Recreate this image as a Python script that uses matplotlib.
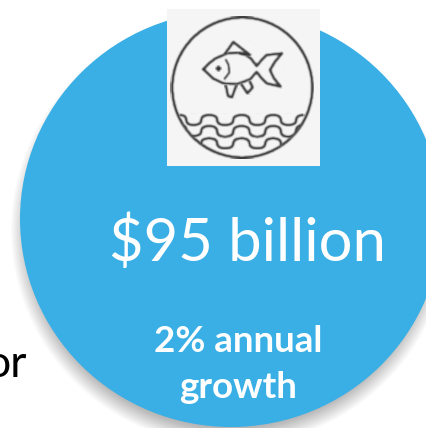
import numpy as np
import matplotlib
matplotlib.use('Agg')
import matplotlib.pyplot as plt
from matplotlib.patches import Ellipse, Circle, Rectangle, PathPatch
from matplotlib.path import Path

W, H = 426, 428
BLUE = '#39afe6'
INK = '#383838'

headline = '$95 billion'
growth_lines = ['2% annual', 'growth']
cut_word = 'or'

# fish outline, icon coordinates
body_x = [160, 175, 195, 232, 262, 285, 303, 320, 335, 350, 396, 375, 360, 372, 392, 350, 335, 320, 300, 262, 220, 190, 160]
body_y = [208, 192, 176, 160, 158, 163, 176, 198, 180, 165, 160, 185, 210, 235, 260, 250, 235, 216, 238, 252, 250, 236, 208]
dorsal_x = [226, 250, 300, 270]
dorsal_y = [160, 126, 165, 160]
fin_a_x = [228, 234, 246, 258]
fin_a_y = [258, 288, 292, 258]
fin_b_x = [275, 292, 308, 300]
fin_b_y = [254, 280, 262, 246]
gill_x = [228, 236, 238, 224]
gill_y = [180, 195, 218, 236]
# wave crests and troughs, one row per wave
wave_x = [88, 130, 178, 225, 275, 322, 370, 415, 462]
wave_rows = [
    [345, 375, 345, 375, 345, 375, 345, 375, 345],
    [375, 408, 378, 410, 378, 410, 378, 410, 375],
    [412, 442, 415, 445, 415, 445, 415, 445, 412],
]


def ix(v):
    return 150 + np.asarray(v) / 3


def iy(v):
    return np.asarray(v) / 3


def soften(img, dpi):
    # small box blur, the icon is a low resolution bitmap
    out = img.astype(float)
    for axis in (0, 1):
        out = (np.roll(out, 1, axis) + out + np.roll(out, -1, axis)) / 3
    return out, 0, 0


fig = plt.figure(figsize=(W / 100, H / 100), dpi=100, facecolor='white')
ax = fig.add_axes([0, 0, 1, 1])
ax.set_xlim(0, W)
ax.set_ylim(H, 0)
ax.axis('off')

# soft shadow below the disc
for grow in np.arange(9, -12, -1):
    ax.add_patch(Ellipse((230, 230), 2 * (210 + grow), 2 * (207 + grow),
                         fc='black', ec='none', alpha=0.014))
ax.add_patch(Ellipse((231, 219), 422, 416, fc=BLUE, ec='none'))

# icon tile
ax.add_patch(Rectangle((167, 9), 153, 157, fc='#f5f5f5', ec='none'))
ring = Circle((242.3, 87.5), 70, fc='none', ec=INK, lw=2.1)
ax.add_patch(ring)
line = dict(color=INK, lw=2.0, solid_joinstyle='round')
marks = []
marks += ax.plot(ix(body_x), iy(body_y), **line)
marks += ax.plot(ix(dorsal_x), iy(dorsal_y), **line)
marks += ax.plot(ix(fin_a_x), iy(fin_a_y), **line)
marks += ax.plot(ix(fin_b_x), iy(fin_b_y), **line)
marks += ax.plot(ix(gill_x), iy(gill_y), color=INK, lw=1.6)
marks += ax.plot(ix(205), iy(205), 'o', color=INK, ms=3)

for row in wave_rows:
    verts = [(ix(wave_x[0]), iy(row[0]))]
    codes = [Path.MOVETO]
    for i in range(len(wave_x) - 1):
        mid = (wave_x[i] + wave_x[i + 1]) / 2
        verts += [(ix(mid), iy(row[i])), (ix(mid), iy((row[i] + row[i + 1]) / 2))]
        verts += [(ix(mid), iy(row[i + 1])), (ix(wave_x[i + 1]), iy(row[i + 1]))]
        codes += [Path.CURVE3] * 4
    wave = PathPatch(Path(verts, codes), fc='none', ec=INK, lw=2.0)
    ax.add_patch(wave)
    wave.set_clip_path(ring)
    marks.append(wave)

ring.set_agg_filter(soften)
for mark in marks:
    mark.set_agg_filter(soften)

ax.text(247.5, 243, headline, color='white', fontsize=43, family='Lato',
        ha='center', va='center')
ax.text(238.5, 342, growth_lines[0], color='white', fontsize=26.5, family='Lato',
        weight='bold', ha='center', va='center')
ax.text(238.5, 388, growth_lines[1], color='white', fontsize=26.5, family='Lato',
        weight='bold', ha='center', va='center')
ax.text(27, 377, cut_word, color='black', fontsize=32, family='Lato',
        ha='right', va='baseline')

fig.savefig('out.png', dpi=100)
